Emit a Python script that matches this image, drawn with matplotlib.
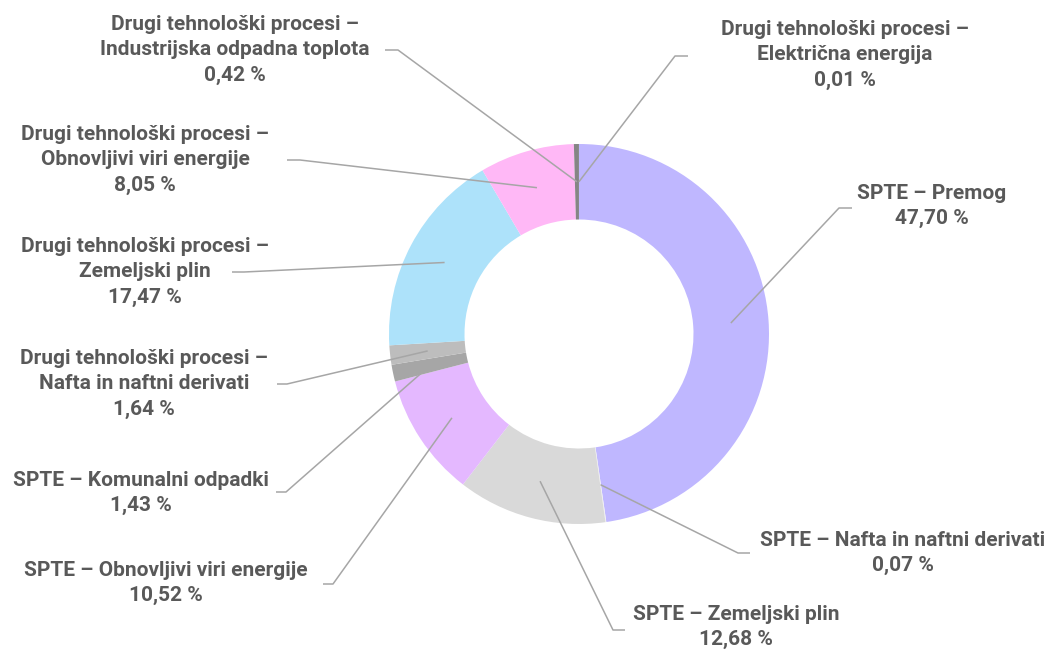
import numpy as np
import matplotlib
matplotlib.use("Agg")
import matplotlib.pyplot as plt

# ---- data ----
categories = [
    "SPTE – Premog",
    "SPTE – Nafta in naftni derivati",
    "SPTE – Zemeljski plin",
    "SPTE – Obnovljivi viri energije",
    "SPTE – Komunalni odpadki",
    "Drugi tehnološki procesi –\nNafta in naftni derivati",
    "Drugi tehnološki procesi –\nZemeljski plin",
    "Drugi tehnološki procesi –\nObnovljivi viri energije",
    "Drugi tehnološki procesi –\nIndustrijska odpadna toplota",
    "Drugi tehnološki procesi –\nElektrična energija",
]
values = [47.70, 0.07, 12.68, 10.52, 1.43, 1.64, 17.47, 8.05, 0.42, 0.01]
value_labels = ["47,70 %", "0,07 %", "12,68 %", "10,52 %", "1,43 %",
                "1,64 %", "17,47 %", "8,05 %", "0,42 %", "0,01 %"]

# ---- style ----
colors = ["#BFB7FF", "#F0F0F0", "#D9D9D9", "#E4B8FF", "#A6A6A6",
          "#BDBDBD", "#ADE2FA", "#FFB8F6", "#858585", "#595959"]
W, H = 1053, 652
TEXT_COLOR = "#595959"
LINE_COLOR = "#A6A6A6"
CX, CY = 579, 334      # pixel coords (y down)
R_OUT, R_IN = 190, 114.5

# label layout: text center (px), leader end at text, elbow corner x
label_layout = [
    ((932, 206), (852, 208), 839),
    ((903, 553), (750, 553), 738),
    ((736, 627), (625, 630), 613),
    ((166, 583), (323, 584), 333),
    ((141, 493), (276, 492), 286),
    ((144, 384), (277, 384), 287),
    ((145, 272), (232, 272), 244),
    ((145, 160), (287, 160), 300),
    ((235, 50), (385, 50), 398),
    ((845, 55), (688, 56), 675),
]

plt.rcParams['font.family'] = ['Roboto', 'DejaVu Sans']

fig = plt.figure(figsize=(W / 100, H / 100), dpi=100)
ax = fig.add_axes([0, 0, 1, 1])

def Y(y):
    return H - y

wedges, _ = ax.pie(values, colors=colors, startangle=90, counterclock=False,
                   radius=R_OUT, center=(CX, Y(CY)),
                   wedgeprops=dict(width=R_OUT - R_IN, edgecolor='none', linewidth=0))
ax.set_xlim(0, W)
ax.set_ylim(0, H)
ax.set_aspect('equal')
ax.axis('off')

r_mid = (R_OUT + R_IN) / 2
for w, cat, vl, (tc, end, cx) in zip(wedges, categories, value_labels, label_layout):
    ang = np.deg2rad((w.theta1 + w.theta2) / 2)
    ax_x = CX + r_mid * np.cos(ang)
    ax_y = Y(CY) + r_mid * np.sin(ang)
    ax.plot([ax_x, cx, end[0]], [ax_y, Y(end[1]), Y(end[1])],
            color=LINE_COLOR, lw=1.1, solid_capstyle='butt', zorder=3)
    ax.text(tc[0], Y(tc[1]), cat + "\n" + vl, ha='center', va='center',
            multialignment='center', color=TEXT_COLOR, fontsize=15,
            fontweight='bold', linespacing=1.42)

fig.savefig("out.png", dpi=100)
